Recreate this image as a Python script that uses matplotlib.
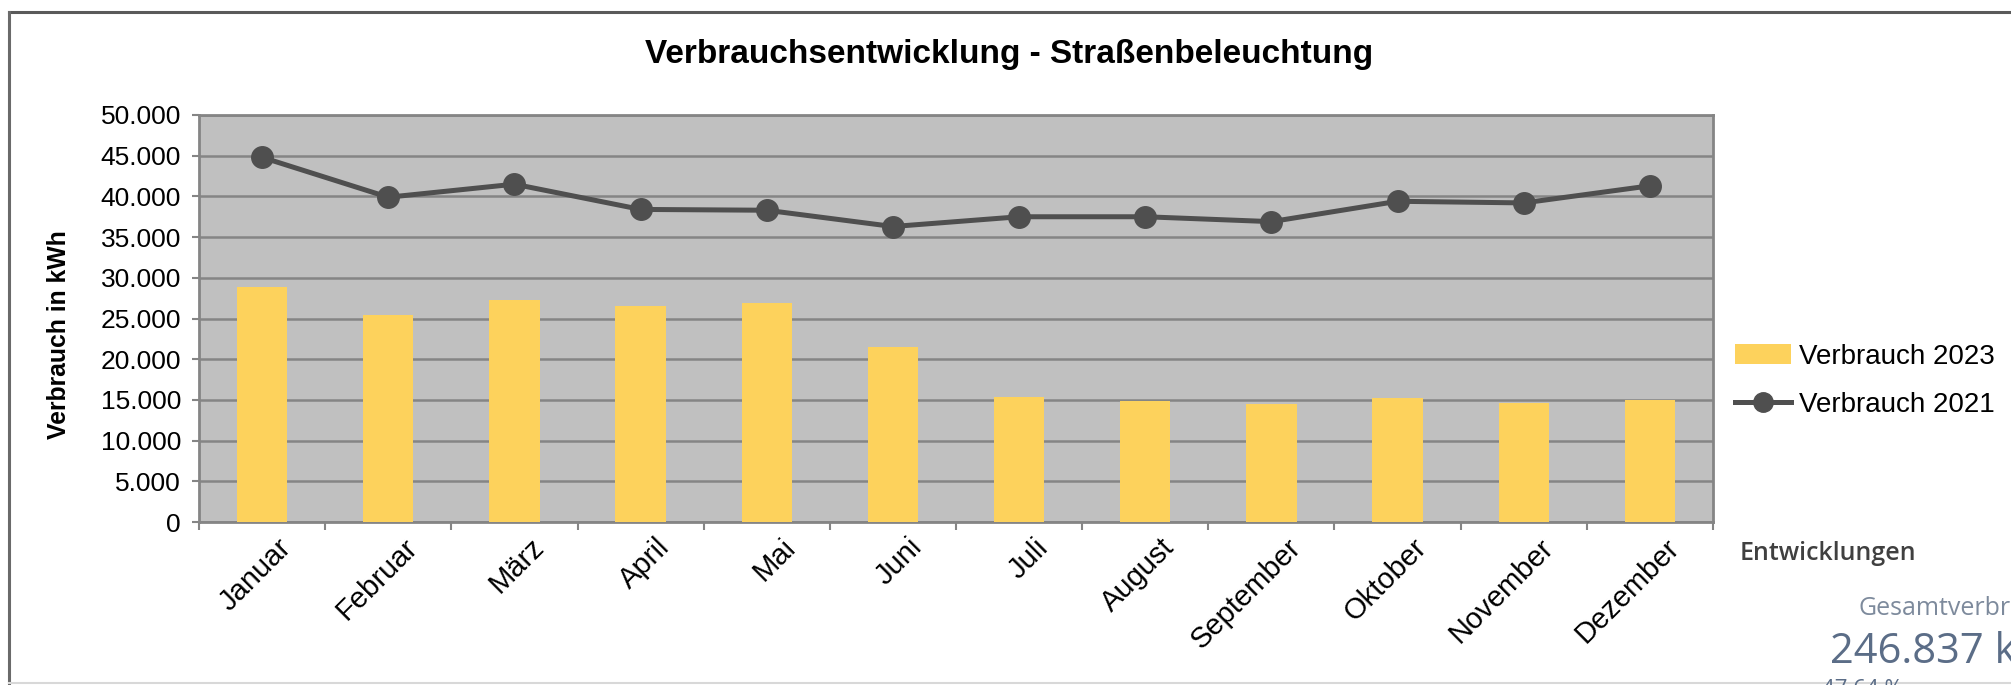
import numpy as np
import matplotlib
matplotlib.use("Agg")
import matplotlib.pyplot as plt
from matplotlib.patches import Patch
from matplotlib.lines import Line2D
from matplotlib.ticker import FuncFormatter, FixedLocator
from matplotlib.transforms import ScaledTranslation

# ===============================
# Data (kWh)
# ===============================
months = ["Januar", "Februar", "März", "April", "Mai", "Juni",
          "Juli", "August", "September", "Oktober", "November", "Dezember"]
verbrauch_2023 = [28900, 25400, 27300, 26500, 26900, 21500,
                  15400, 14900, 14500, 15200, 14600, 15000]
verbrauch_2021 = [44800, 39900, 41500, 38400, 38300, 36300,
                  37500, 37500, 36900, 39400, 39200, 41300]
y_ticks = [0, 5000, 10000, 15000, 20000, 25000, 30000, 35000, 40000, 45000, 50000]

W, H = 2011, 685
plt.rcParams['font.family'] = ['Liberation Sans', 'DejaVu Sans']


def fx(x):
    return x / W


def fy(y):
    return 1 - y / H


fig = plt.figure(figsize=(W / 100, H / 100), dpi=100)
fig.patch.set_facecolor("white")

# outer frame of the chart picture (top/left dark, bottom light)
fig.add_artist(Line2D([fx(9), fx(2011)], [fy(12), fy(12)], color="#5a5a5a", lw=2.2))
fig.add_artist(Line2D([fx(9), fx(9)], [fy(12), fy(683)], color="#6a6a6a", lw=2.2))
fig.add_artist(Line2D([fx(9), fx(2011)], [fy(683), fy(683)], color="#d8d8d8", lw=1.5))

ax = fig.add_axes([fx(199), fy(522), fx(1713) - fx(199), fy(115) - fy(522)])
ax.set_facecolor("#C0C0C0")

x = np.arange(len(months))
ax.bar(x, verbrauch_2023, width=0.4, color="#FDD25C", zorder=3, label="Verbrauch 2023")
ax.plot(x, verbrauch_2021, color="#4F4F4F", linewidth=3.6, marker="o",
        markersize=15.5, zorder=4, label="Verbrauch 2021")

ax.set_xlim(-0.5, len(months) - 0.5)
ax.set_ylim(0, 50000)
ax.set_yticks(y_ticks)
ax.yaxis.set_major_formatter(FuncFormatter(lambda v, p: f"{int(v):,}".replace(",", ".")))
ax.grid(axis="y", color="#858585", linewidth=1.8, zorder=1)

for s in ax.spines.values():
    s.set_color("#858585")
    s.set_linewidth(2)

ax.tick_params(axis="y", labelsize=19, length=5, width=1.5, color="#858585", pad=8)
ax.set_xticks(x)
ax.set_xticklabels(months, rotation=45, ha="right", va="top",
                   rotation_mode="anchor", fontsize=21)
ax.tick_params(axis="x", which="major", length=0, pad=8)
ax.xaxis.set_minor_locator(FixedLocator(np.arange(-0.5, len(months), 1)))
ax.tick_params(axis="x", which="minor", length=6, width=1.5, color="#858585")
for lab in ax.get_xticklabels():
    lab.set_transform(lab.get_transform() + ScaledTranslation(0.15, 0, fig.dpi_scale_trans))

ax.set_ylabel("Verbrauch in kWh", fontsize=17.8, fontweight="bold")
ax.yaxis.set_label_coords((71 - 199) / 1514, (522 - 335) / 407)

fig.text(fx(1009), fy(54), "Verbrauchsentwicklung - Straßenbeleuchtung",
         ha="center", va="center", fontsize=24, fontweight="bold")

handles = [Patch(facecolor="#FDD25C", edgecolor="none"),
           Line2D([], [], color="#4F4F4F", linewidth=3.6, marker="o", markersize=14)]
fig.legend(handles, ["Verbrauch 2023", "Verbrauch 2021"], loc="center left",
           bbox_to_anchor=(fx(1735), fy(381)), frameon=False, fontsize=20,
           handlelength=2.0, handletextpad=0.3, labelspacing=0.8,
           borderpad=0, borderaxespad=0)

# overlapping web page text in the lower right corner
fig.text(fx(1740), fy(560), "Entwicklungen", fontsize=18, color="#404040",
         family=["Open Sans", "DejaVu Sans"], fontweight="semibold", va="baseline")
fig.text(fx(1858), fy(615), "Gesamtverbrauch", fontsize=18, color="#7d8a9c",
         family=["Open Sans", "DejaVu Sans"], va="baseline")
fig.text(fx(1830), fy(663), "246.837 kWh", fontsize=30, color="#5b6d87",
         family=["Open Sans", "DejaVu Sans"], va="baseline")
fig.text(fx(1822), fy(679), "47,64 %", fontsize=16, color="#5b6d87",
         family=["Open Sans", "DejaVu Sans"], va="top")

fig.savefig("out.png", dpi=100)
